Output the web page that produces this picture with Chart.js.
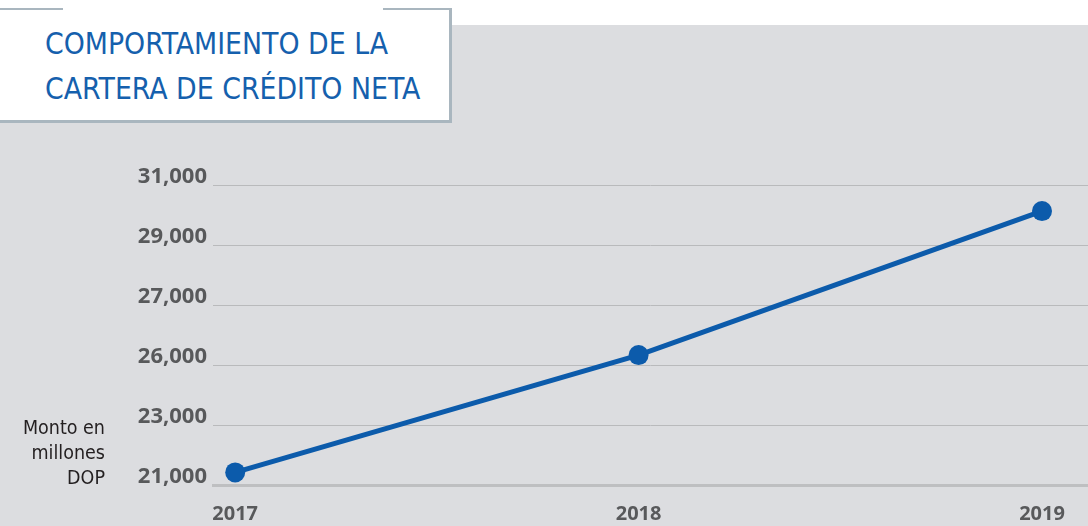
<!DOCTYPE html>
<html>
<head>
<meta charset="utf-8">
<script src="https://cdn.jsdelivr.net/npm/chart.js@4/dist/chart.umd.min.js"></script>
<style>
  body { margin: 0; background: #fff; width: 1088px; height: 526px; overflow: hidden; position: relative; }
  #panel { position: absolute; left: 0; top: 25px; width: 1088px; height: 501px; background: #dcdde0; }
  #wrap { position: absolute; left: 0; top: 0; width: 1088px; height: 526px; }
  #titleBox {
    position: absolute; left: 0; top: 8px; width: 449px; height: 112px;
    background: #fff; border-right: 3px solid #a9b6bf; border-bottom: 3px solid #a9b6bf;
  }
  #titleBox .topL { position: absolute; left: 0; top: 0; width: 63px; height: 2px; background: #a9b6bf; }
  #titleBox .topR { position: absolute; left: 383px; top: 0; width: 66px; height: 2px; background: #a9b6bf; }
  #title {
    position: absolute; left: 45px; top: 13px; margin: 0;
    font-family: "DejaVu Sans Condensed", "DejaVu Sans"; font-stretch: condensed;
    font-weight: normal; font-size: 29.8px; line-height: 45px; color: #1560ad;
  }
  #unit {
    position: absolute; right: 983px; top: 415px; text-align: right;
    font-family: "DejaVu Sans Condensed", "DejaVu Sans"; font-stretch: condensed;
    font-size: 19.5px; line-height: 25px; color: #231f20;
  }
</style>
</head>
<body>
<div id="panel"></div>
<div id="wrap"><canvas id="chart" width="1088" height="526"></canvas></div>
<div id="titleBox"><div class="topL"></div><div class="topR"></div>
  <p id="title">COMPORTAMIENTO DE LA<br>CARTERA DE CRÉDITO NETA</p>
</div>
<div id="unit">Monto en<br>millones<br>DOP</div>
<script>
const years = [2017, 2018, 2019];
const cartera = [21420, 25330, 30130];
const yTickLabels = ['21,000', '23,000', '26,000', '27,000', '29,000', '31,000'];

const blue = '#0c5bab';
const xFont = { family: 'Open Sans', weight: 'bold', size: 20 };
const yFont = { family: 'Open Sans', weight: 'bold', size: 22 };

new Chart(document.getElementById('chart').getContext('2d'), {
    type: 'line',
    data: {
        datasets: [{
            data: years.map((y, i) => ({ x: y, y: cartera[i] })),
            borderColor: blue,
            backgroundColor: blue,
            borderWidth: 5,
            pointRadius: 10,
            pointBorderWidth: 0,
            pointBackgroundColor: blue,
            tension: 0
        }]
    },
    options: {
        responsive: false,
        animation: false,
        layout: { autoPadding: false, padding: { top: 185, left: 0, right: 0, bottom: 0 } },
        plugins: { legend: { display: false }, tooltip: { enabled: false } },
        scales: {
            x: {
                type: 'linear',
                min: 2016.945,
                max: 2019.114,
                afterBuildTicks: scale => { scale.ticks = years.map(v => ({ value: v })); },
                afterFit: scale => { scale.height = 41; scale.paddingLeft = 0; scale.paddingRight = 0; },
                grid: { display: false },
                border: { display: true, color: '#bebfc1', width: 3 },
                ticks: { color: '#58595b', font: xFont, padding: 9, callback: v => String(v) }
            },
            y: {
                min: 21000,
                max: 31000,
                afterFit: scale => { scale.width = 213; },
                border: { display: false },
                grid: {
                    drawTicks: false,
                    color: ctx => ctx.index === 0 ? 'rgba(0,0,0,0)' : '#b9babc',
                    lineWidth: 1
                },
                ticks: {
                    stepSize: 2000,
                    color: '#58595b',
                    font: yFont,
                    padding: 6,
                    labelOffset: -8,
                    callback: (v, i) => yTickLabels[i]
                }
            }
        }
    }
});
</script>
</body>
</html>
